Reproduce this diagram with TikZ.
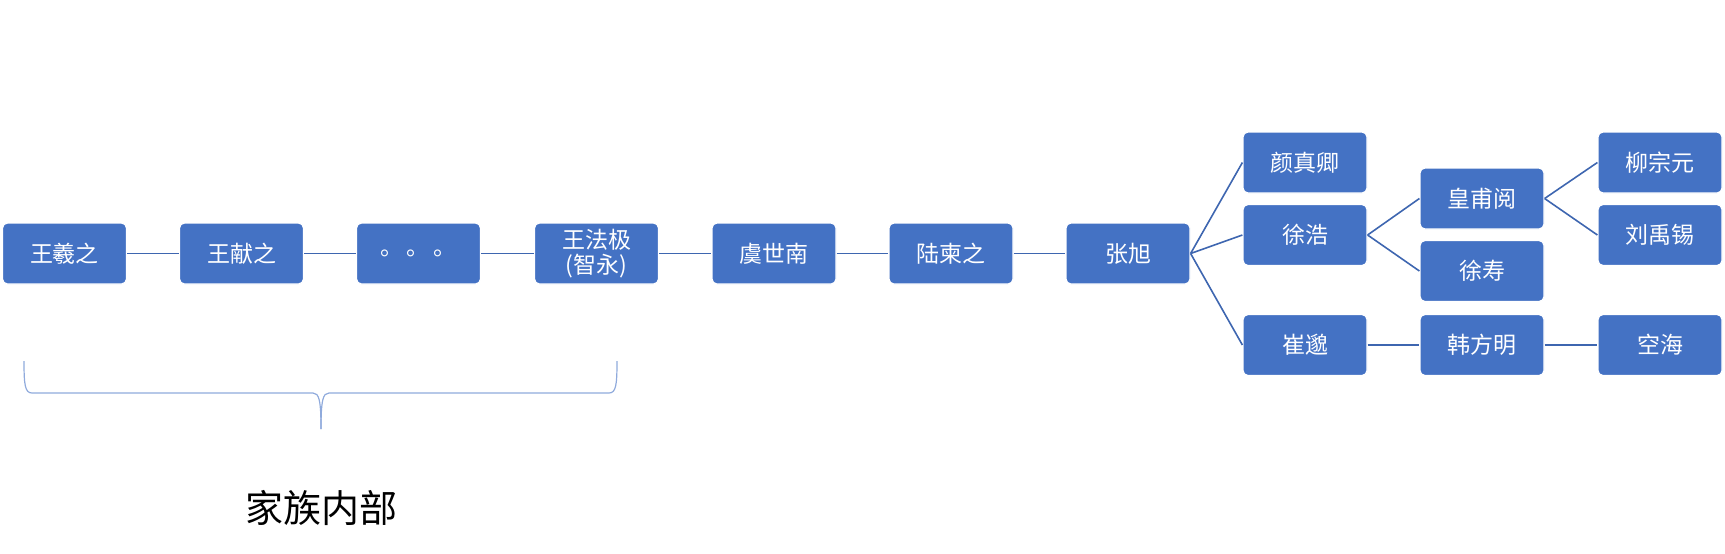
\documentclass[tikz,border=0pt]{standalone}
\usepackage{fontspec}
\setmainfont{Noto Sans CJK SC}
\usepackage{tikz}
\usepackage{xcolor}

\definecolor{officeblue}{HTML}{4472C4}
\definecolor{linkblue}{HTML}{3E66B0}
\definecolor{braceblue}{HTML}{8FAADC}

\begin{document}
\begin{tikzpicture}[
    x=0.5pt, y=-0.5pt,
    box/.style={draw=white, line width=0.6pt, fill=officeblue, rounded corners=2.5pt, minimum width=62pt, minimum height=30.5pt, align=center, text=white, font=\fontsize{11.5}{12.5}\selectfont, inner sep=1pt},
    link/.style={draw=linkblue, line width=0.8pt},
    every node/.style={font=\small}
]
\useasboundingbox (0,0) rectangle (1725,553);

% Main line
\node[box] (wxz) at (64.5, 253.5) {王羲之};
\node[box] (wxzz) at (241.5, 253.5) {王献之};
\node[box] (dots) at (418.5, 253.5) {。\,。\,。};
\node[box] (wfj) at (596.5, 253.5) {王法极\\(智永)};
\node[box] (ysn) at (774, 253.5) {虞世南};
\node[box] (lbz) at (951, 253.5) {陆柬之};
\node[box] (zx) at (1128, 253.5) {张旭};

% Branches of zx
\node[box] (yzq) at (1305, 162.5) {颜真卿};
\node[box] (xh) at (1305, 235) {徐浩};
\node[box] (cm) at (1305, 345) {崔邈};

% Next generation
\node[box] (hfy) at (1482, 198.5) {皇甫阅};
\node[box] (xs) at (1482, 271) {徐寿};
\node[box] (hfm) at (1482, 345) {韩方明};

% Last column
\node[box] (lzy) at (1660, 162.5) {柳宗元};
\node[box] (lyx) at (1660, 235) {刘禹锡};
\node[box] (kh) at (1660, 345) {空海};

% Links
\draw[link] (wxz) -- (wxzz);
\draw[link] (wxzz) -- (dots);
\draw[link] (dots) -- (wfj);
\draw[link] (wfj) -- (ysn);
\draw[link] (ysn) -- (lbz);
\draw[link] (lbz) -- (zx);
\draw[link] (zx.east) -- (yzq.west);
\draw[link] (zx.east) -- (xh.west);
\draw[link] (zx.east) -- (cm.west);
\draw[link] (xh.east) -- (hfy.west);
\draw[link] (xh.east) -- (xs.west);
\draw[link] (hfy.east) -- (lzy.west);
\draw[link] (hfy.east) -- (lyx.west);
\draw[link] (cm) -- (hfm);
\draw[link] (hfm) -- (kh);

% Family brace
\coordinate (bl) at (24, 361);
\coordinate (br) at (617, 361);
\coordinate (tip) at (321, 429);
\draw[braceblue, line width=0.6pt] (bl) .. controls (24, 385) and (25, 393) .. (32, 393)
    -- (313, 393) .. controls (319, 393) and (321, 400) .. (tip);
\draw[braceblue, line width=0.6pt] (br) .. controls (617, 385) and (616, 393) .. (609, 393)
    -- (329, 393) .. controls (323, 393) and (321, 400) .. (tip);
\node[font=\fontsize{19}{23}\selectfont] (family) at (321, 508) {家族内部};

\end{tikzpicture}
\end{document}
